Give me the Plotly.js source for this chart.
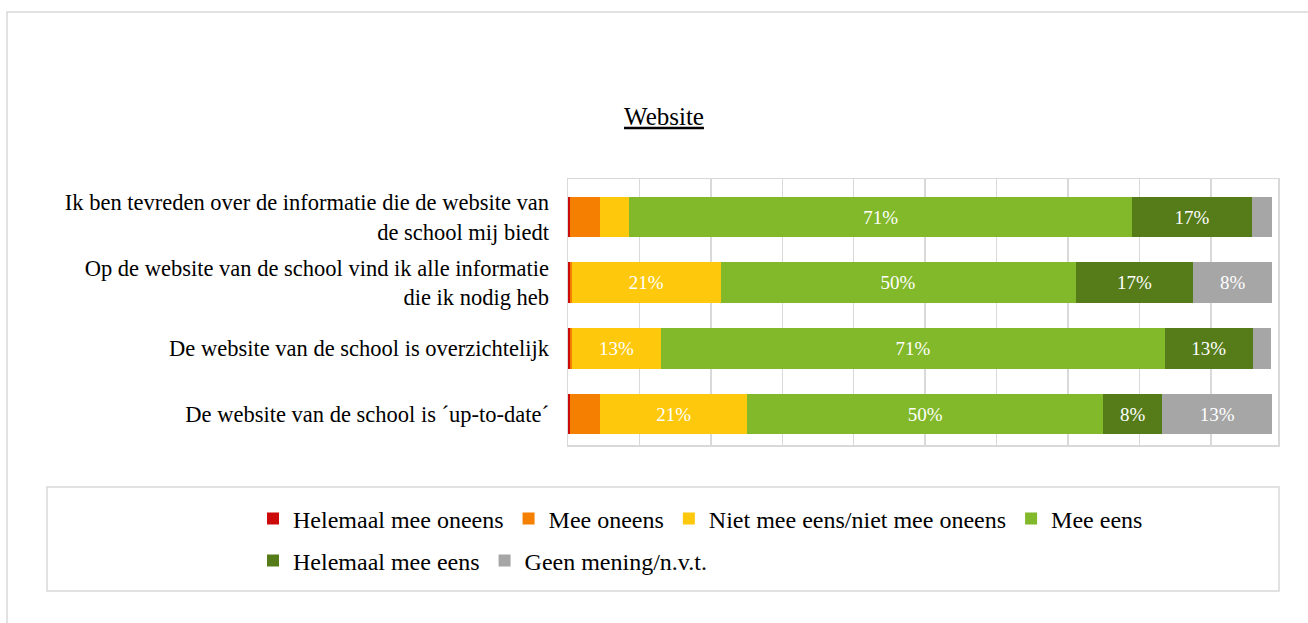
<!DOCTYPE html>
<html>
<head>
<meta charset="utf-8">
<script src="https://cdn.plot.ly/plotly-3.0.1.min.js"></script>
<style>html,body{margin:0;padding:0;background:#fff;}</style>
</head>
<body>
<div id="chart" style="width:1308px;height:623px;"></div>
<script>
// ---- data ----
var statements = [
  'Ik ben tevreden over de informatie die de website van<br>de school mij biedt',
  'Op de website van de school vind ik alle informatie<br>die ik nodig heb',
  'De website van de school is overzichtelijk',
  'De website van de school is \u00b4up-to-date\u00b4'
];
var seriesNames = ['Helemaal mee oneens', 'Mee oneens', 'Niet mee eens/niet mee oneens', 'Mee eens', 'Helemaal mee eens', 'Geen mening/n.v.t.'];
var helemaalOneens = [0.003, 0.003, 0.003, 0.003];
var meeOneens      = [0.042, 0.0025, 0.0025, 0.042];
var neutraal       = [0.041, 0.208, 0.125, 0.206];
var meeEens        = [0.704, 0.497, 0.705, 0.498];
var helemaalEens   = [0.167, 0.165, 0.123, 0.083];
var geenMening     = [0.028, 0.110, 0.026, 0.154];
var labelsHelemaalOneens = ['', '', '', ''];
var labelsMeeOneens      = ['', '', '', ''];
var labelsNeutraal       = ['', '21%', '13%', '21%'];
var labelsMeeEens        = ['71%', '50%', '71%', '50%'];
var labelsHelemaalEens   = ['17%', '17%', '13%', '8%'];
var labelsGeenMening     = ['', '8%', '', '13%'];

var values = [helemaalOneens, meeOneens, neutraal, meeEens, helemaalEens, geenMening];
var labels = [labelsHelemaalOneens, labelsMeeOneens, labelsNeutraal, labelsMeeEens, labelsHelemaalEens, labelsGeenMening];
var colors = ['#cc0a0a', '#f57f00', '#fec80c', '#82b92a', '#567c1a', '#a6a6a6'];
var legendOf = ['legend', 'legend', 'legend', 'legend', 'legend2', 'legend2'];

var FONT = 'Liberation Serif, Times New Roman, serif';

var traces = values.map(function (v, i) {
  return {
    type: 'bar',
    orientation: 'h',
    name: seriesNames[i],
    y: statements,
    x: v,
    text: labels[i],
    textposition: 'inside',
    insidetextanchor: 'middle',
    constraintext: 'none',
    textfont: {family: FONT, size: 19, color: '#ffffff'},
    marker: {color: colors[i], line: {width: 0}},
    legend: legendOf[i],
    hoverinfo: 'name+x'
  };
});

// pixel -> paper helpers (plot area 568..1278 x, 179..445 y)
var L = 568, R = 30, T = 179, B = 178, W = 1308, H = 623;
var pw = W - L - R, ph = H - T - B;
function px(xp) { return (xp - L) / pw; }
function py(yp) { return (H - B - yp) / ph; }

var layout = {
  width: W, height: H,
  margin: {l: L, r: R, t: T, b: B},
  paper_bgcolor: '#ffffff',
  plot_bgcolor: '#ffffff',
  barmode: 'stack',
  bargap: 0.38,
  font: {family: FONT, color: '#000000'},
  title: {
    text: '<u>Website</u>',
    font: {family: FONT, size: 25, color: '#000000'},
    x: 664 / W, xanchor: 'center',
    y: 1 - 116 / H, yanchor: 'middle'
  },
  xaxis: {
    range: [0, 0.994],
    dtick: 0.1,
    tick0: 0,
    showticklabels: false,
    ticks: '',
    showgrid: true,
    gridcolor: '#d9d9d9',
    gridwidth: 1.5,
    zeroline: false,
    showline: true,
    linecolor: '#d9d9d9',
    linewidth: 1.5,
    mirror: true,
    fixedrange: true
  },
  yaxis: {
    type: 'category',
    range: [3.472, -0.579],
    ticks: '',
    ticklabelstandoff: 13,
    tickfont: {family: FONT, size: 22.5, color: '#000000'},
    showgrid: false,
    zeroline: false,
    showline: true,
    linecolor: '#d9d9d9',
    linewidth: 1.5,
    mirror: true,
    fixedrange: true
  },
  legend: {
    orientation: 'h',
    x: px(253), xanchor: 'left',
    y: py(519), yanchor: 'middle',
    font: {family: FONT, size: 24, color: '#000000'},
    bgcolor: 'rgba(0,0,0,0)',
    borderwidth: 0,
    traceorder: 'normal'
  },
  legend2: {
    orientation: 'h',
    x: px(253), xanchor: 'left',
    y: py(561), yanchor: 'middle',
    font: {family: FONT, size: 24, color: '#000000'},
    bgcolor: 'rgba(0,0,0,0)',
    borderwidth: 0,
    traceorder: 'normal'
  },
  shapes: [
    {type: 'rect', xref: 'paper', yref: 'paper', layer: 'below',
     x0: px(7), x1: px(1330), y0: py(12), y1: py(650),
     line: {color: '#d9d9d9', width: 1.5}, fillcolor: 'rgba(0,0,0,0)'},
    {type: 'rect', xref: 'paper', yref: 'paper', layer: 'below',
     x0: px(47), x1: px(1279), y0: py(487), y1: py(591),
     line: {color: '#d9d9d9', width: 1.5}, fillcolor: 'rgba(0,0,0,0)'}
  ],
  showlegend: true
};

Plotly.newPlot('chart', traces, layout, {displayModeBar: false, staticPlot: true});
</script>
</body>
</html>
